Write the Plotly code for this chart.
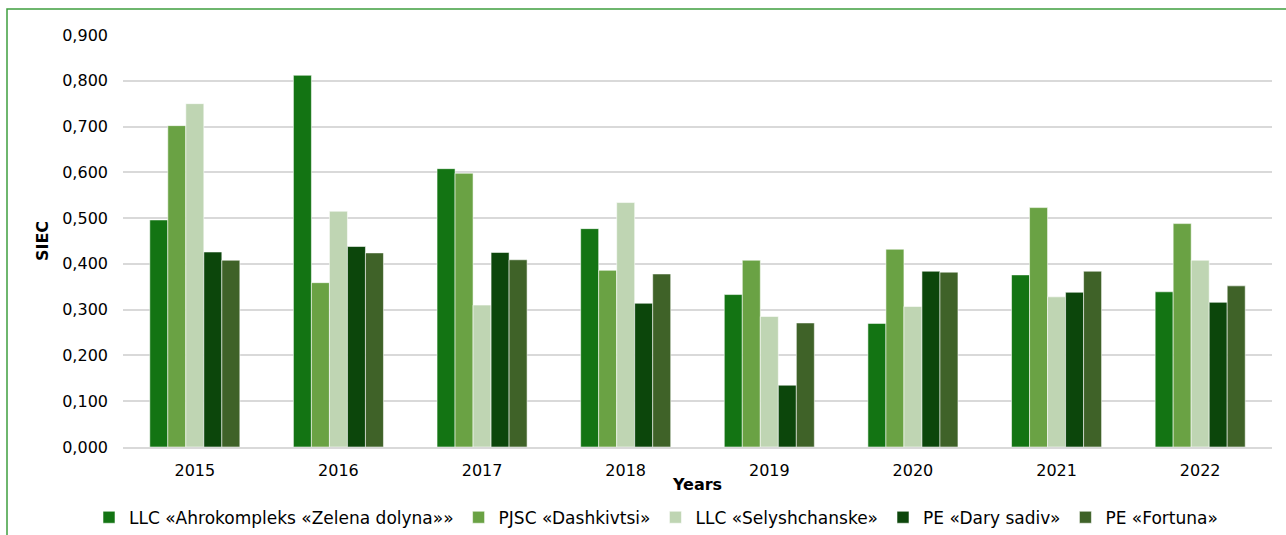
import plotly.graph_objects as go

years = ["2015", "2016", "2017", "2018", "2019", "2020", "2021", "2022"]

series_names = [
    "LLC «Ahrokompleks «Zelena dolyna»»",
    "PJSC «Dashkivtsi»",
    "LLC «Selyshchanske»",
    "PE «Dary sadiv»",
    "PE «Fortuna»",
]

ahrokompleks = [0.496, 0.812, 0.608, 0.477, 0.333, 0.270, 0.376, 0.339]
dashkivtsi = [0.702, 0.359, 0.598, 0.386, 0.408, 0.432, 0.523, 0.488]
selyshchanske = [0.750, 0.515, 0.310, 0.534, 0.285, 0.307, 0.328, 0.408]
dary_sadiv = [0.426, 0.438, 0.425, 0.314, 0.135, 0.384, 0.338, 0.316]
fortuna = [0.408, 0.424, 0.409, 0.378, 0.271, 0.382, 0.384, 0.352]

colors = ["#137413", "#6aa244", "#bfd5b3", "#0c460b", "#3f6228"]

y_ticks = [0.0, 0.1, 0.2, 0.3, 0.4, 0.5, 0.6, 0.7, 0.8, 0.9]

# the page is photographed from a slightly taller canvas; lay out on that canvas
W, H = 1286, 548
S = H / 535.0
ML, MR = 123, 14
MT = round(34.5 * S)
MB = H - round(447 * S)
plot_w = W - ML - MR
plot_h = H - MT - MB

fig = go.Figure()
for name, vals, col in zip(series_names,
                           [ahrokompleks, dashkivtsi, selyshchanske, dary_sadiv, fortuna],
                           colors):
    fig.add_trace(go.Bar(
        x=years, y=vals, name=name,
        marker=dict(color=col, line=dict(color="rgba(255,255,255,0.55)", width=1)),
    ))

font_family = "DejaVu Sans, Verdana, sans-serif"

fig.update_layout(
    width=W, height=H,
    margin=dict(l=ML, r=MR, t=MT, b=MB),
    paper_bgcolor="white",
    plot_bgcolor="white",
    barmode="group",
    bargap=0.373,
    bargroupgap=0,
    separators=",.",
    font=dict(family=font_family, size=16, color="#000000"),
    showlegend=True,
    legend=dict(
        orientation="h",
        x=(89 - ML) / plot_w, xanchor="left",
        y=(MT + plot_h - 518 * S) / plot_h, yanchor="middle",
        font=dict(family=font_family, size=17, color="#000000"),
        bgcolor="rgba(0,0,0,0)",
        traceorder="normal",
    ),
    xaxis=dict(
        type="category",
        showgrid=False,
        showline=True,
        linecolor="#d9d9d9",
        linewidth=1.5,
        ticks="",
        ticklabelstandoff=8,
        tickfont=dict(family=font_family, size=16),
        title=dict(text="<b>Years</b>", standoff=0,
                   font=dict(family=font_family, size=16)),
    ),
    yaxis=dict(
        range=[0, 0.9],
        tickvals=y_ticks,
        tickformat=".3f",
        showgrid=True,
        gridcolor="#d9d9d9",
        gridwidth=1.5,
        zeroline=False,
        showline=False,
        ticks="",
        ticklabelstandoff=14,
        tickfont=dict(family=font_family, size=16),
        title=dict(text="<b>SIEC</b>", standoff=9,
                   font=dict(family=font_family, size=16)),
    ),
)

# chart-area border (top and left edges visible in the reference)
fig.add_shape(
    type="rect", xref="paper", yref="paper",
    x0=(7 - ML) / plot_w, x1=(W + 20 - ML) / plot_w,
    y0=(MT + plot_h - (H + 20)) / plot_h, y1=(MT + plot_h - 8 * S) / plot_h,
    line=dict(color="#3f9f3f", width=1.5),
    fillcolor="rgba(0,0,0,0)",
    layer="below",
)

post = (
    "document.documentElement.style.margin='0';"
    "document.body.style.margin='0';"
)

fig.write_html("out.html", config={"displayModeBar": False}, post_script=post)
